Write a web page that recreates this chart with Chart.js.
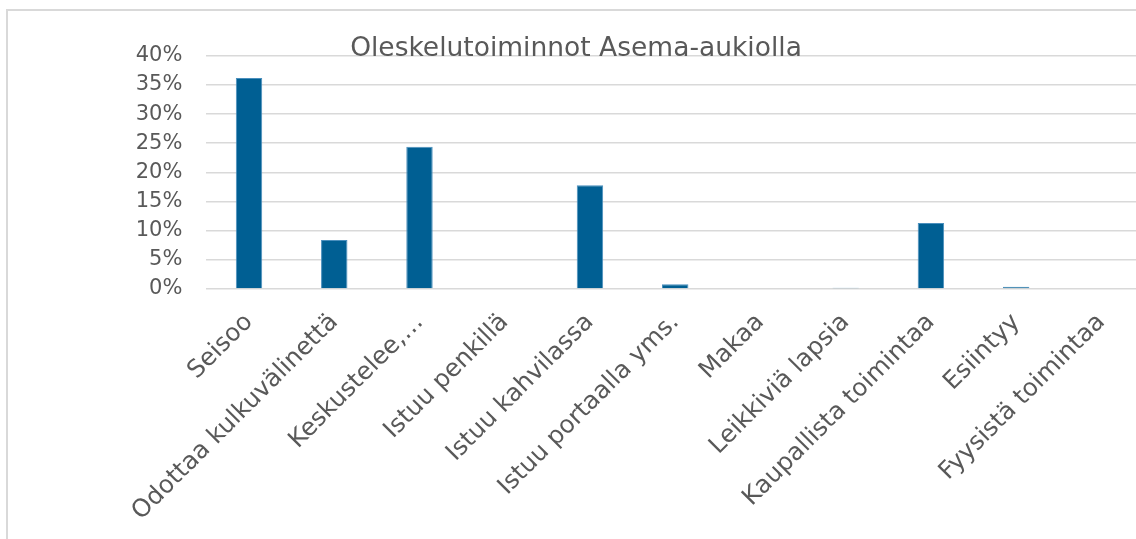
<!DOCTYPE html>
<html>
<head>
<meta charset="utf-8">
<script src="https://cdn.jsdelivr.net/npm/chart.js@4/dist/chart.umd.min.js"></script>
<style>
  html, body { margin: 0; padding: 0; background: #fff; overflow: hidden; width: 1136px; height: 539px; }
  #frame { position: absolute; left: 6px; top: 9px; border-left: 2px solid #d9d9d9; border-top: 2px solid #d9d9d9; width: 1200px; height: 600px; }
  #c { display: block; }
</style>
</head>
<body>
<div id="frame"><canvas id="c" width="1138" height="528"></canvas></div>
<script>
const chartTitle = 'Oleskelutoiminnot Asema-aukiolla';
const categories = ['Seisoo', 'Odottaa kulkuvälinettä', 'Keskustelee,…', 'Istuu penkillä', 'Istuu kahvilassa', 'Istuu portaalla yms.', 'Makaa', 'Leikkiviä lapsia', 'Kaupallista toimintaa', 'Esiintyy', 'Fyysistä toimintaa'];
const values = [36.2, 8.4, 24.4, 0, 17.8, 0.8, 0, 0.2, 11.3, 0.4, 0];
const yTicks = [0, 5, 10, 15, 20, 25, 30, 35, 40];

const textColor = '#595959';
const fontFamily = '"DejaVu Sans", Verdana, sans-serif';

new Chart(document.getElementById('c'), {
  type: 'bar',
  data: {
    labels: categories,
    datasets: [{
      data: values,
      backgroundColor: '#005f93',
      borderColor: '#4a8fbd',
      borderWidth: 1,
      categoryPercentage: 1,
      barPercentage: 0.31
    }]
  },
  options: {
    responsive: false,
    animation: false,
    layout: { padding: { left: 0, right: 2, top: 0, bottom: 0 } },
    plugins: {
      legend: { display: false },
      tooltip: { enabled: false },
      title: {
        display: true,
        text: chartTitle,
        color: textColor,
        font: { family: fontFamily, size: 26.5, weight: 'normal', lineHeight: 1.2 },
        padding: { top: 22, bottom: -9 }
      }
    },
    scales: {
      x: {
        grid: { display: false, drawTicks: false },
        border: { display: false },
        ticks: {
          color: textColor,
          font: { family: fontFamily, size: 24.5 },
          maxRotation: 45,
          minRotation: 45,
          autoSkip: false,
          padding: 19,
          labelOffset: 0
        },
        afterFit: (s) => { s.height = 250; }
      },
      y: {
        min: 0,
        max: 40,
        afterBuildTicks: (s) => { s.ticks = yTicks.map(v => ({ value: v })); },
        grid: { color: '#d9d9d9', lineWidth: 1.6, drawTicks: false },
        border: { display: false },
        ticks: {
          color: textColor,
          font: { family: fontFamily, size: 21 },
          padding: 24,
          callback: (v) => v + '%'
        },
        afterFit: (s) => { s.width = 198.4; }
      }
    }
  }
});
</script>
</body>
</html>
